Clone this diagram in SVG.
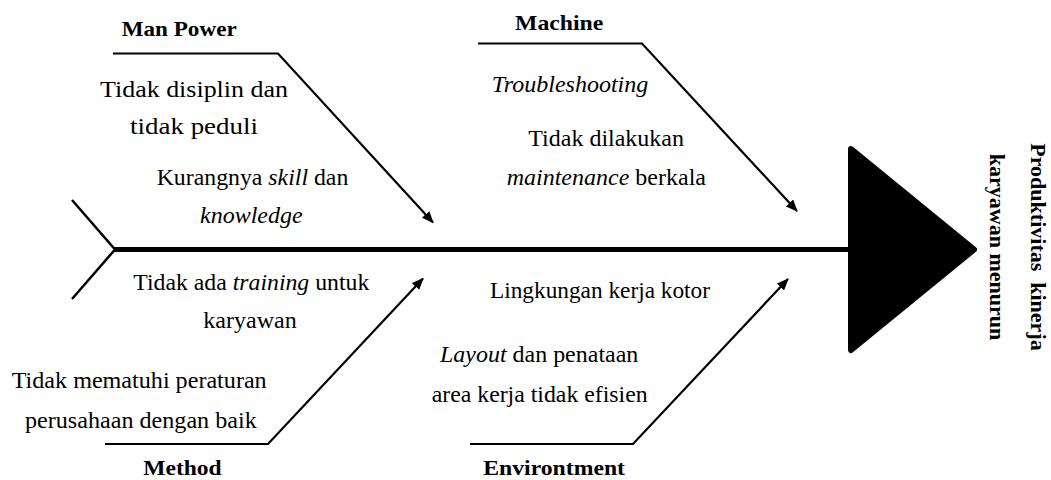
<svg xmlns="http://www.w3.org/2000/svg" width="1051" height="480" viewBox="0 0 1051 480">
<defs>
<style>
.t{font-family:'Liberation Serif','Times New Roman',serif;font-size:24px;fill:#000}
.b{font-family:'Liberation Serif','Times New Roman',serif;font-size:22px;font-weight:bold;fill:#000}
.i{font-style:italic}
.br{fill:none;stroke:#000;stroke-width:2.2}
</style>
<marker id="ah" markerUnits="userSpaceOnUse" markerWidth="12" markerHeight="10" refX="11" refY="5" orient="auto">
<path d="M0,0 L12,5 L0,10 z" fill="#000"/>
</marker>
</defs>
<rect width="1051" height="480" fill="#fff"/>
<g id="connectors">
<line x1="114" y1="249.5" x2="852" y2="249.5" stroke="#000" stroke-width="5"/>
<polyline points="72,200 115,249.5 72,299" fill="none" stroke="#000" stroke-width="2.5"/>
<polyline class="br" points="113,53.5 278,53.5 433,222.5" marker-end="url(#ah)"/>
<polyline class="br" points="478,43.5 642,43.5 797,211" marker-end="url(#ah)"/>
<polyline class="br" points="105,444 268,444 423,278.5" marker-end="url(#ah)"/>
<polyline class="br" points="470,444 633,444 788,279" marker-end="url(#ah)"/>
</g>
<g id="effect">
<polygon points="851,149 974,249.5 851,350" fill="#000" stroke="#000" stroke-width="6" stroke-linejoin="round"/>
<text class="b" transform="translate(1031,247) rotate(90)" text-anchor="middle" xml:space="preserve">Produktivitas  kinerja</text>
<text class="b" transform="translate(990,247) rotate(90)" text-anchor="middle">karyawan menurun</text>
</g>
<g id="man-power">
<text class="b" x="121.7" y="36" textLength="115" lengthAdjust="spacingAndGlyphs">Man Power</text>
<text class="t" x="100" y="96.7" textLength="188" lengthAdjust="spacingAndGlyphs">Tidak disiplin dan</text>
<text class="t" x="130" y="134" textLength="128" lengthAdjust="spacingAndGlyphs">tidak peduli</text>
<text class="t" x="156.7" y="185" textLength="191.6" lengthAdjust="spacingAndGlyphs">Kurangnya <tspan class="i">skill</tspan> dan</text>
<text class="t i" x="200" y="222.5" textLength="102.7" lengthAdjust="spacingAndGlyphs">knowledge</text>
</g>
<g id="machine">
<text class="b" x="515" y="30" textLength="88.3" lengthAdjust="spacingAndGlyphs">Machine</text>
<text class="t i" x="491.7" y="91.7" textLength="156.6" lengthAdjust="spacingAndGlyphs">Troubleshooting</text>
<text class="t" x="528.3" y="145.7" textLength="155.7" lengthAdjust="spacingAndGlyphs">Tidak dilakukan</text>
<text class="t" x="506.7" y="185" textLength="199.3" lengthAdjust="spacingAndGlyphs"><tspan class="i">maintenance</tspan> berkala</text>
</g>
<g id="method">
<text class="t" x="133.3" y="290" textLength="236" lengthAdjust="spacingAndGlyphs">Tidak ada <tspan class="i">training</tspan> untuk</text>
<text class="t" x="203.3" y="328.3" textLength="93.4" lengthAdjust="spacingAndGlyphs">karyawan</text>
<text class="t" x="11.7" y="388.3" textLength="255" lengthAdjust="spacingAndGlyphs">Tidak mematuhi peraturan</text>
<text class="t" x="25" y="428.3" textLength="231.7" lengthAdjust="spacingAndGlyphs">perusahaan dengan baik</text>
<text class="b" x="143.3" y="475" textLength="78.4" lengthAdjust="spacingAndGlyphs">Method</text>
</g>
<g id="environment">
<text class="t" x="490" y="298.3" textLength="220" lengthAdjust="spacingAndGlyphs">Lingkungan kerja kotor</text>
<text class="t" x="440" y="361.7" textLength="198.3" lengthAdjust="spacingAndGlyphs"><tspan class="i">Layout</tspan> dan penataan</text>
<text class="t" x="431.7" y="401.7" textLength="216" lengthAdjust="spacingAndGlyphs">area kerja tidak efisien</text>
<text class="b" x="483.3" y="475" textLength="141.7" lengthAdjust="spacingAndGlyphs">Environtment</text>
</g>
</svg>
